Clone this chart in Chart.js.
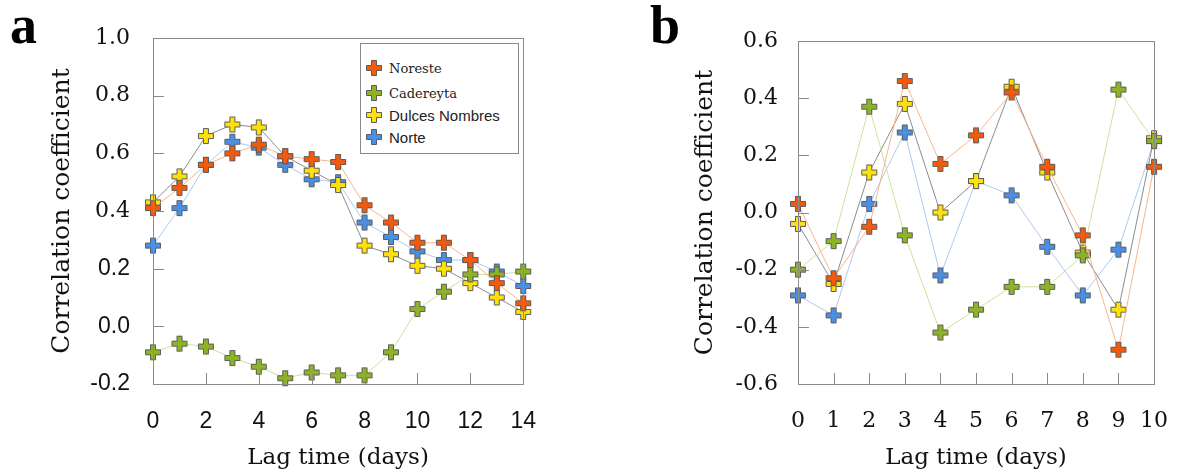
<!DOCTYPE html>
<html>
<head>
<meta charset="utf-8">
<script src="https://cdn.jsdelivr.net/npm/chart.js@4"></script>
<style>
  body { margin: 0; background: #fff; }
  #wrap { position: relative; width: 1192px; height: 475px; overflow: hidden; }
  #chartA { position: absolute; left: 0; top: 0; }
  #chartB { position: absolute; left: 600px; top: 0; }
  .panel { position: absolute; top: -2px; font: bold 54px "Liberation Serif", serif; line-height: 1; color: #000; }
  #legendA { position: absolute; left: 360px; top: 43px; width: 157px; height: 109px;
    border: 1px solid #8a8a8a; background: #fff; box-sizing: content-box; }
  #legendA div { position: absolute; left: 4px; height: 20px; display: flex; align-items: center; color: #222; }
  #legendA img { width: 18px; height: 18px; margin-right: 6px; }
</style>
</head>
<body>
<div id="wrap">
  <canvas id="chartA" width="560" height="475"></canvas>
  <canvas id="chartB" width="592" height="475"></canvas>
  <div class="panel" style="left:10px">a</div>
  <div class="panel" style="left:650px">b</div>
  <div id="legendA"></div>
</div>
<script>
// Series names and colours
const seriesNames = ["Noreste", "Cadereyta", "Dulces Nombres", "Norte"];
const markerColors = ["#f45a0c", "#8cb425", "#ffe10a", "#4a8fe6"];
const lineColors = ["#f9b58a", "#d3df9c", "#8c8c8c", "#acc9f3"];

// Panel a: lag 0..14 days
const lagA = [0, 1, 2, 3, 4, 5, 6, 7, 8, 9, 10, 11, 12, 13, 14];
const noresteA = [0.41, 0.48, 0.56, 0.60, 0.63, 0.59, 0.58, 0.57, 0.42, 0.36, 0.29, 0.29, 0.23, 0.15, 0.08];
const cadereytaA = [-0.09, -0.06, -0.07, -0.11, -0.14, -0.18, -0.16, -0.17, -0.17, -0.09, 0.06, 0.12, 0.18, 0.18, 0.19];
const dulcesA = [0.43, 0.52, 0.66, 0.70, 0.69, 0.59, 0.54, 0.49, 0.28, 0.25, 0.21, 0.20, 0.15, 0.10, 0.05];
const norteA = [0.28, 0.41, 0.56, 0.64, 0.62, 0.56, 0.51, 0.50, 0.36, 0.31, 0.26, 0.23, 0.23, 0.19, 0.14];
const xTicksA = [0, 2, 4, 6, 8, 10, 12, 14];
const yTicksA = [-0.2, 0, 0.2, 0.4, 0.6, 0.8, 1.0];

// Panel b: lag 0..10 days
const lagB = [0, 1, 2, 3, 4, 5, 6, 7, 8, 9, 10];
const noresteB = [0.03, -0.23, -0.05, 0.46, 0.17, 0.27, 0.42, 0.16, -0.08, -0.48, 0.16];
const cadereytaB = [-0.20, -0.10, 0.37, -0.08, -0.42, -0.34, -0.26, -0.26, -0.15, 0.43, 0.25];
const dulcesB = [-0.04, -0.25, 0.14, 0.38, 0.00, 0.11, 0.44, 0.14, -0.14, -0.34, 0.26];
const norteB = [-0.29, -0.36, 0.03, 0.28, -0.22, 0.11, 0.06, -0.12, -0.29, -0.13, 0.25];
const xTicksB = [0, 1, 2, 3, 4, 5, 6, 7, 8, 9, 10];
const yTicksB = [-0.6, -0.4, -0.2, 0, 0.2, 0.4, 0.6];

const SERIF = "'DejaVu Serif', serif";
const SANS = "'Liberation Sans', Arial, sans-serif";

// thick plus marker with dark outline
function makeCross(color) {
  const c = document.createElement("canvas");
  c.width = 18;
  c.height = 18;
  const g = c.getContext("2d");
  const a = 1.5, b = 6.5, d = 11.5, e = 16.5;
  g.beginPath();
  g.moveTo(b, a); g.lineTo(d, a); g.lineTo(d, b); g.lineTo(e, b); g.lineTo(e, d);
  g.lineTo(d, d); g.lineTo(d, e); g.lineTo(b, e); g.lineTo(b, d); g.lineTo(a, d);
  g.lineTo(a, b); g.lineTo(b, b); g.closePath();
  g.fillStyle = color;
  g.fill();
  g.lineWidth = 1;
  g.strokeStyle = "#5b5b5b";
  g.stroke();
  return c;
}
const markers = markerColors.map(makeCross);

function makeDatasets(xs, seriesList) {
  return seriesList.map((vals, i) => ({
    label: seriesNames[i],
    data: xs.map((x, k) => ({ x: x, y: vals[k] })),
    borderColor: lineColors[i],
    borderWidth: 1,
    pointStyle: markers[i],
    pointRadius: 9,
    pointHoverRadius: 9,
    order: i,
    clip: false,
    tension: 0,
  }));
}

// frame plus inward tick marks
const framePlugin = {
  id: "frame",
  afterDatasetsDraw(chart) {
    const { ctx, chartArea: ca, scales } = chart;
    ctx.save();
    ctx.strokeStyle = "#8a8a8a";
    ctx.lineWidth = 1;
    ctx.strokeRect(Math.round(ca.left) + 0.5, Math.round(ca.top) + 0.5,
      Math.round(ca.right - ca.left), Math.round(ca.bottom - ca.top));
    ctx.beginPath();
    scales.x.ticks.forEach(t => {
      const px = Math.round(scales.x.getPixelForValue(t.value)) + 0.5;
      ctx.moveTo(px, ca.bottom);
      ctx.lineTo(px, ca.bottom - 11);
    });
    scales.y.ticks.forEach(t => {
      const py = Math.round(scales.y.getPixelForValue(t.value)) + 0.5;
      ctx.moveTo(ca.left, py);
      ctx.lineTo(ca.left + 11, py);
    });
    ctx.stroke();
    ctx.restore();
  },
};

function makeChart(canvas, cfg) {
  return new Chart(canvas, {
    type: "line",
    data: { datasets: cfg.datasets },
    options: {
      responsive: false,
      animation: false,
      layout: { padding: { top: cfg.top, right: cfg.right, left: 0, bottom: 0 } },
      plugins: { legend: { display: false }, tooltip: { enabled: false } },
      scales: {
        x: {
          type: "linear",
          min: cfg.xTicks[0],
          max: cfg.xTicks[cfg.xTicks.length - 1],
          afterBuildTicks: s => { s.ticks = cfg.xTicks.map(v => ({ value: v })); },
          afterFit: s => { s.height = 475 - cfg.bottom; },
          grid: { display: false, drawTicks: false },
          border: { display: false },
          ticks: {
            padding: 24,
            color: "#111",
            maxRotation: 0,
            autoSkip: false,
            font: { family: cfg.xFont, size: cfg.xFontSize },
          },
          title: {
            display: true,
            text: "Lag time (days)",
            color: "#111",
            font: { family: SERIF, size: 23 },
            padding: { bottom: 3, top: 0 },
          },
        },
        y: {
          min: cfg.yTicks[0],
          max: cfg.yTicks[cfg.yTicks.length - 1],
          afterBuildTicks: s => { s.ticks = cfg.yTicks.map(v => ({ value: v })); },
          afterFit: s => { s.width = cfg.left; },
          grid: { display: false, drawTicks: false },
          border: { display: false },
          ticks: {
            padding: cfg.yPad,
            color: "#111",
            font: cfg.yFont,
            callback: v => v.toFixed(1),
          },
          title: {
            display: true,
            text: "Correlation coefficient",
            color: "#111",
            font: { family: SERIF, size: 25 },
            padding: { top: cfg.titleX - 15, bottom: 0 },
          },
        },
      },
    },
    plugins: [framePlugin],
  });
}

makeChart(document.getElementById("chartA"), {
  datasets: makeDatasets(lagA, [noresteA, cadereytaA, dulcesA, norteA]),
  xTicks: xTicksA,
  yTicks: yTicksA,
  top: 38, right: 36, left: 153, bottom: 384,
  yPad: 23,
  titleX: 62,
  xFont: SANS, xFontSize: 23,
  yFont: ctx => ctx.tick && ctx.tick.value >= 0.3
    ? { family: SERIF, size: 22 }
    : { family: SANS, size: 23 },
});

makeChart(document.getElementById("chartB"), {
  datasets: makeDatasets(lagB, [noresteB, cadereytaB, dulcesB, norteB]),
  xTicks: xTicksB,
  yTicks: yTicksB,
  top: 41, right: 23, left: 198, bottom: 384,
  yPad: 20,
  titleX: 105,
  xFont: SERIF, xFontSize: 22,
  yFont: { family: SERIF, size: 22 },
});

// legend for panel a (mixed fonts as in the original)
const legendFonts = [
  "13px " + SERIF,
  "13px " + SERIF,
  "15px " + SANS,
  "15px " + SANS,
];
const legendTops = [14, 39, 61, 83];
const legendEl = document.getElementById("legendA");
seriesNames.forEach((name, i) => {
  const item = document.createElement("div");
  item.style.top = legendTops[i] + "px";
  const img = document.createElement("img");
  img.src = markers[i].toDataURL();
  const span = document.createElement("span");
  span.textContent = name;
  span.style.font = legendFonts[i];
  item.appendChild(img);
  item.appendChild(span);
  legendEl.appendChild(item);
});
</script>
</body>
</html>
